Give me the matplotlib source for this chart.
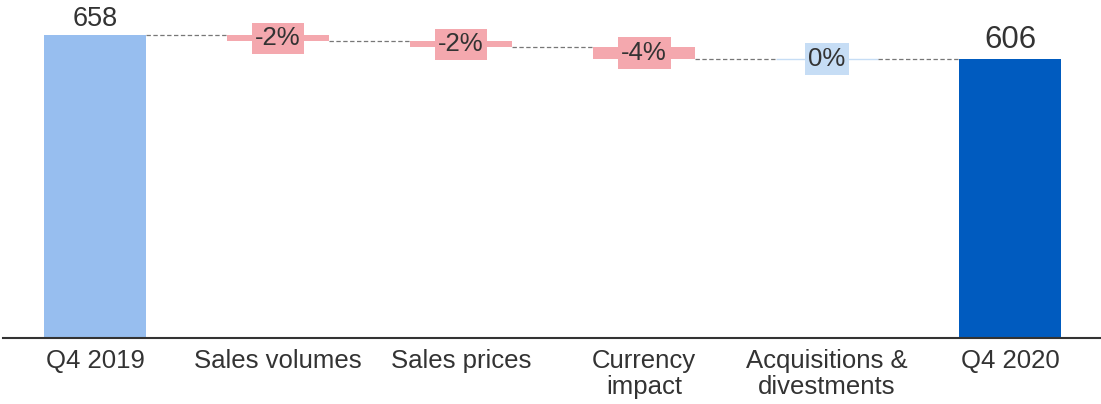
import matplotlib.pyplot as plt

# Net sales bridge, Q4 2019 -> Q4 2020
categories = ['Q4 2019', 'Sales volumes', 'Sales prices', 'Currency\nimpact',
              'Acquisitions &\ndivestments', 'Q4 2020']
start_value = 658
end_value = 606
deltas = [-14, -12, -26, 0]
delta_labels = ['-2%', '-2%', '-4%', '0%']

plt.rcParams['font.family'] = ['Liberation Sans', 'DejaVu Sans']

col_start = '#97BEEF'
col_end = '#005BBF'
col_neg = '#F4A8AE'
col_pos = '#C6DDF5'
txt_col = '#333333'
w = 0.557

fig = plt.figure(figsize=(11.01, 4.04), dpi=100)
ax = fig.add_axes([3 / 1101, 66 / 404, 1 - 3 / 1101, 338 / 404])

ax.bar(0, start_value, width=w, color=col_start)
ax.text(0, start_value + 7, str(start_value), ha='center', va='bottom',
        fontsize=19.5, color=txt_col)

level = start_value
levels = [start_value]
for i, (d, lab) in enumerate(zip(deltas, delta_labels)):
    x = i + 1
    new = level + d
    c = col_neg if d < 0 else col_pos
    lo, hi = min(level, new), max(level, new)
    ax.bar(x, max(hi - lo, 0.01), bottom=lo, width=w, color=c,
           edgecolor=c, linewidth=1 if d == 0 else 0)
    ax.text(x, (lo + hi) / 2, lab, ha='center', va='center', fontsize=18.5,
            color=txt_col,
            bbox=dict(boxstyle='square,pad=0.14', fc=c, ec='none'))
    level = new
    levels.append(level)

ax.bar(5, end_value, width=w, color=col_end)
ax.text(5, end_value + 9, str(end_value), ha='center', va='bottom',
        fontsize=22.5, color=txt_col)

# dashed connectors between bars
for i in range(5):
    ax.plot([i + w / 2, i + 1 - w / 2], [levels[i], levels[i]],
            ls=(0, (3.5, 2)), color='#777777', lw=0.9)

ax.set_xlim(-0.503, 5.497)
ax.set_ylim(0, 734)
ax.set_xticks(range(len(categories)))
ax.set_xticklabels(categories, fontsize=18.5, color=txt_col, linespacing=1.08)
ax.tick_params(axis='x', length=0, pad=8)
ax.set_yticks([])
for s in ['top', 'right', 'left']:
    ax.spines[s].set_visible(False)
ax.spines['bottom'].set_color('#333333')
ax.spines['bottom'].set_linewidth(1.5)

fig.savefig('out.png', dpi=100)
